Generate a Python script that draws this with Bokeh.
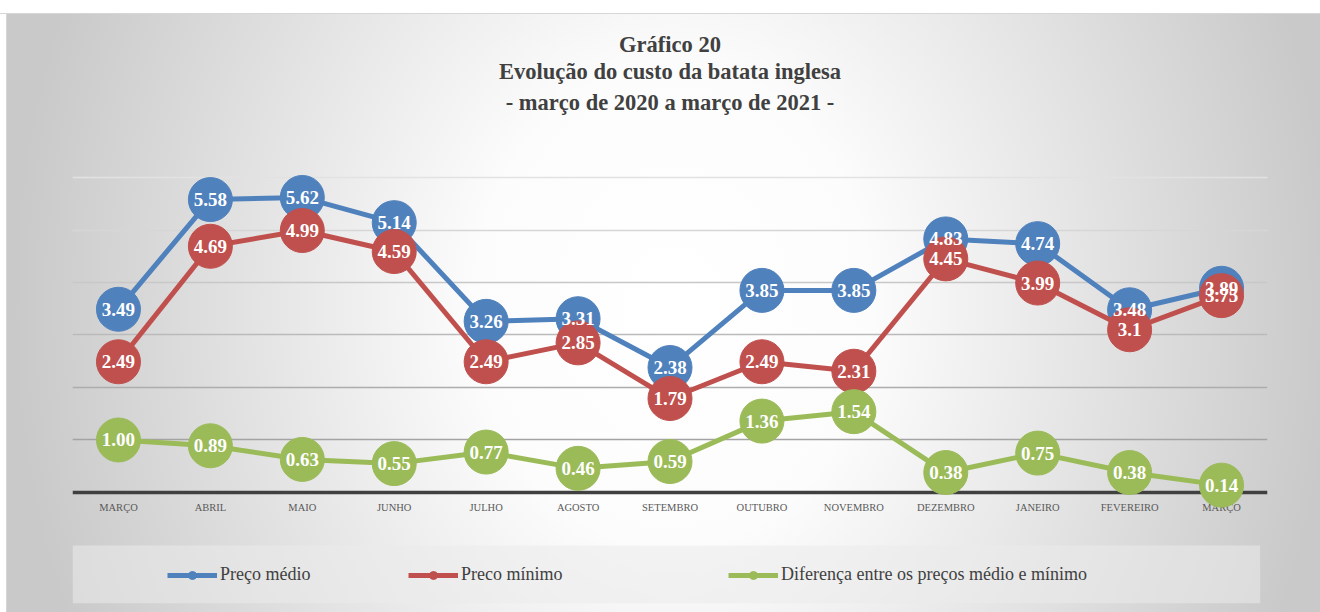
from bokeh.plotting import figure
from bokeh.models import (Range1d, FixedTicker, Grid, Legend, LegendItem,
                          BoxAnnotation, Title, ColumnDataSource)
from bokeh.core.properties import value
from bokeh.embed import file_html
from bokeh.resources import INLINE

# ---------------- data ----------------
months = ["MARÇO", "ABRIL", "MAIO", "JUNHO", "JULHO", "AGOSTO", "SETEMBRO",
          "OUTUBRO", "NOVEMBRO", "DEZEMBRO", "JANEIRO", "FEVEREIRO", "MARÇO"]
preco_medio = [3.49, 5.58, 5.62, 5.14, 3.26, 3.31, 2.38, 3.85, 3.85, 4.83, 4.74, 3.48, 3.89]
preco_minimo = [2.49, 4.69, 4.99, 4.59, 2.49, 2.85, 1.79, 2.49, 2.31, 4.45, 3.99, 3.1, 3.75]
diferenca = [1.00, 0.89, 0.63, 0.55, 0.77, 0.46, 0.59, 1.36, 1.54, 0.38, 0.75, 0.38, 0.14]
grid_values = [1, 2, 3, 4, 5, 6]

title_lines = ["Gráfico 20",
               "Evolução do custo da batata inglesa",
               "- março de 2020 a março de 2021 -"]
legend_labels = ["Preço médio", "Preco mínimo",
                 "Diferença entre os preços médio e mínimo"]

# ---------------- styles ----------------
SERIF = "Liberation Serif"
colors = ["#4f81bd", "#c0504d", "#9bbb59"]
grid_colors = ["#a3a3a3", "#adadad", "#bababa", "#c8c8c8", "#d6d6d6", "#e2e2e2"]
legend_x = [95, 336, 656]
title_standoffs = [0, 0, 8]

x = list(range(len(months)))

p = figure(width=1320, height=612,
           x_range=Range1d(-0.5, 12.5), y_range=Range1d(-2.286, 7.124),
           output_backend="svg", toolbar_location=None, title=None,
           min_border_left=72, min_border_right=53,
           min_border_top=118, min_border_bottom=0)

p.background_fill_color = None
p.border_fill_color = None
p.outline_line_color = None
p.styles = {
    "background": (
        "linear-gradient(to bottom, #ffffff 0px, #ffffff 13px, #d6d6d6 13px, "
        "#d6d6d6 14px, rgba(255,255,255,0) 14px), "
        "linear-gradient(to right, #ffffff 0px, #ffffff 6px, #d6d6d6 6px, "
        "#d6d6d6 7px, rgba(255,255,255,0) 7px), "
        "radial-gradient(ellipse 660px 800px at 51% 50%, #ffffff 0%, "
        "#fcfcfc 30%, #c9c9c9 100%)"
    )
}

# titles (added bottom-up)
for line, so in reversed(list(zip(title_lines, title_standoffs))):
    p.add_layout(Title(text=line, align="center", offset=7,
                       text_font=SERIF, text_font_size="22.5px",
                       text_font_style="bold", text_color="#404040",
                       standoff=so), "above")

# axes / grids
p.yaxis.visible = False
p.xgrid.grid_line_color = None
p.ygrid.grid_line_color = None
for gv, gc in zip(grid_values, grid_colors):
    p.add_layout(Grid(dimension=1, ticker=FixedTicker(ticks=[gv]),
                      grid_line_color=gc, grid_line_width=1.5))

xa = p.xaxis[0]
xa.fixed_location = 0
xa.ticker = FixedTicker(ticks=x)
xa.major_label_overrides = {i: m for i, m in enumerate(months)}
xa.axis_line_color = "#404040"
xa.axis_line_width = 3.5
xa.major_tick_line_color = None
xa.minor_tick_line_color = None
xa.major_label_standoff = 4
xa.major_label_text_font = SERIF
xa.major_label_text_font_size = "10.5px"
xa.major_label_text_color = "#595959"
xa.level = "underlay"

# legend panel background
p.add_layout(BoxAnnotation(left=-0.5, right=12.42, top=-1.01, bottom=-2.11,
                           fill_color="#ebebeb", fill_alpha=0.55,
                           line_color=None, level="underlay"))

# series
series = [
    (preco_medio, [f"{v:.2f}" for v in preco_medio]),
    (preco_minimo, [f"{v:g}" for v in preco_minimo]),
    (diferenca, [f"{v:.2f}" for v in diferenca]),
]
items = []
sources = []
for (vals, labels), col, name in zip(series, colors, legend_labels):
    src = ColumnDataSource(dict(x=x, y=vals, lab=labels))
    sources.append(src)
    ln = p.line("x", "y", source=src, line_color=col, line_width=5)
    sc = p.scatter("x", "y", source=src, size=44, fill_color=col,
                   line_color=col)
    items.append(LegendItem(label=name, renderers=[ln, sc]))

for src in sources:
    p.text("x", "y", text="lab", source=src, text_align="center",
           text_baseline="middle", text_color="white",
           text_font=value(SERIF), text_font_style="bold",
           text_font_size="19px")

for item, lx in zip(items, legend_x):
    legend = Legend(items=[item], orientation="horizontal", location=(lx, 27),
                    background_fill_alpha=0, border_line_color=None,
                    glyph_width=50, glyph_height=20, label_standoff=3,
                    padding=0, margin=0,
                    label_text_font=SERIF, label_text_font_size="18px",
                    label_text_color="#404040")
    p.add_layout(legend)

open("out.html", "w").write(file_html(p, INLINE))
